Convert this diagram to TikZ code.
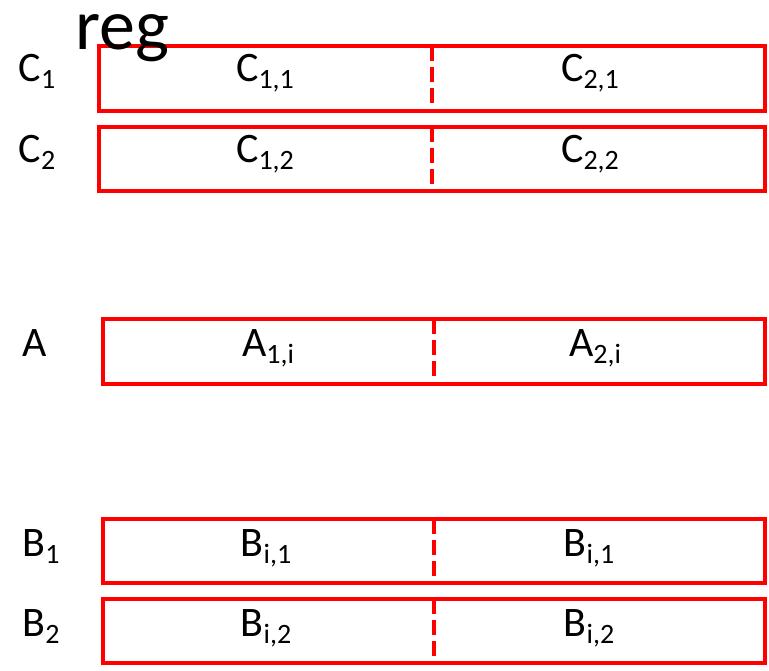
\documentclass[tikz,border=0pt]{standalone}
\usepackage{fontspec}
\setmainfont{Carlito}
\newcommand\sbs[1]{\raisebox{-7pt}{\fontsize{28}{30}\selectfont #1}}
\begin{document}
\begin{tikzpicture}[x=1pt,y=-1pt,
  regbox/.style={draw=red, line width=4pt, outer sep=0pt, inner sep=0pt, minimum height=64.5pt},
  divline/.style={draw=red, line width=4pt, dash pattern=on 15pt off 6pt},
  txt/.style={anchor=base, inner sep=0pt, font=\fontsize{42}{50}\selectfont}]
\useasboundingbox (0,0) rectangle (769,671);
% boxes
\node[regbox, minimum width=666.5pt] (c1) at (431.75,78.75) {};
\node[regbox, minimum width=666.5pt] (c2) at (431.75,159.25) {};
\node[regbox, minimum width=662pt] (a) at (434,351.5) {};
\node[regbox, minimum width=662pt] (b1) at (434,551) {};
\node[regbox, minimum width=662pt] (b2) at (434,631) {};
% dividers
\draw[divline] (c1.north) -- (c1.south);
\draw[divline] (c2.north) -- (c2.south);
\draw[divline] (a.north) -- (a.south);
\draw[divline] (b1.north) -- (b1.south);
\draw[divline] (b2.north) -- (b2.south);
% row labels
\node[txt] (lc1) at (37,82) {C\sbs{1}};
\node[txt] (lc2) at (37,163) {C\sbs{2}};
\node[txt] (la) at (35,356) {A};
\node[txt] (lb1) at (41,556) {B\sbs{1}};
\node[txt] (lb2) at (41,636) {B\sbs{2}};
% cell texts
\node[txt] (t11) at (265,82) {C\sbs{1,1}};
\node[txt] (t21) at (590,82) {C\sbs{2,1}};
\node[txt] (t12) at (265,163) {C\sbs{1,2}};
\node[txt] (t22) at (590,163) {C\sbs{2,2}};
\node[txt] (ta1) at (268,356) {A\sbs{1,i}};
\node[txt] (ta2) at (595,356) {A\sbs{2,i}};
\node[txt] (tb11) at (266,556) {B\sbs{i,1}};
\node[txt] (tb21) at (589,556) {B\sbs{i,1}};
\node[txt] (tb12) at (266,636) {B\sbs{i,2}};
\node[txt] (tb22) at (589,636) {B\sbs{i,2}};
% title
\node[anchor=base, inner sep=0pt, font=\fontsize{72}{80}\selectfont] (reg) at (122.5,50) {reg};
\end{tikzpicture}
\end{document}
